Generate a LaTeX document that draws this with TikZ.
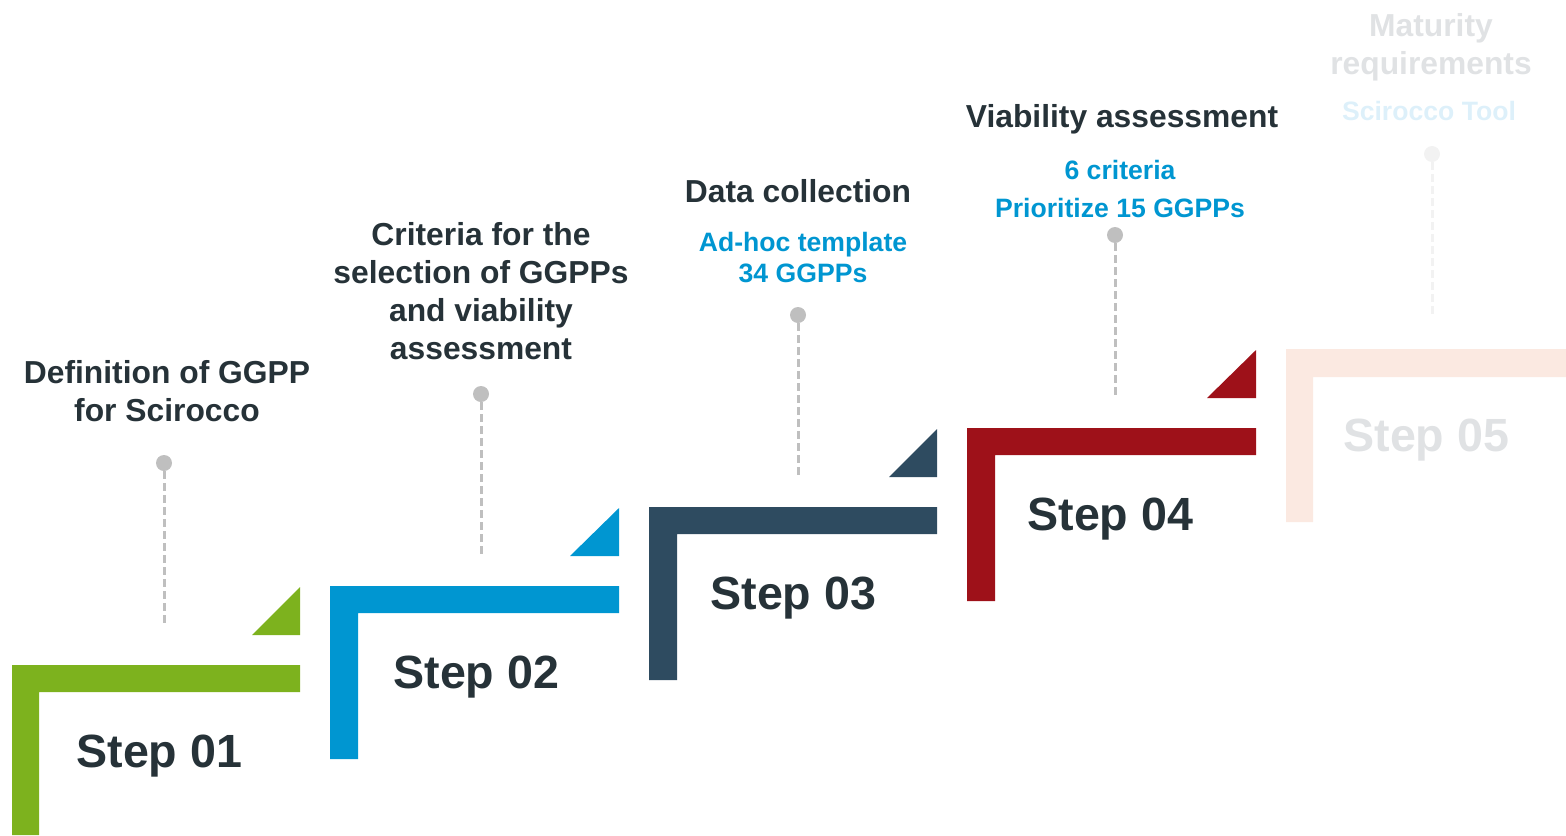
\documentclass[tikz,border=0pt]{standalone}
\usepackage{fontspec}
\setmainfont{Liberation Sans}
\definecolor{leaf}{RGB}{125, 178, 30}
\definecolor{ocean}{RGB}{0, 150, 209}
\definecolor{slate}{RGB}{46, 75, 96}
\definecolor{crimson}{RGB}{158, 17, 25}
\definecolor{peach}{RGB}{251, 233, 225}
\definecolor{ink}{RGB}{38, 50, 56}
\definecolor{pebble}{RGB}{191, 191, 191}
\definecolor{mist}{RGB}{224, 226, 228}
\definecolor{skymist}{RGB}{221, 240, 250}
\definecolor{fog}{RGB}{242, 242, 242}

\tikzset{
  title/.style={font=\fontsize{15.9}{19}\selectfont\bfseries, text=ink, align=center, inner sep=0pt},
  note/.style={font=\fontsize{13.3}{15.5}\selectfont\bfseries, text=ocean, align=center, inner sep=0pt},
  steplabel/.style={font=\fontsize{23.3}{28}\selectfont\bfseries, text=ink, anchor=base west, inner sep=0pt},
  knob/.style={circle, fill=pebble, minimum size=8pt, inner sep=0pt},
  stem/.style={pebble, line width=1.5pt, dash pattern=on 4pt off 2pt}
}

\begin{document}
\begin{tikzpicture}[x=0.5pt, y=-0.5pt]
  \useasboundingbox (0,0) rectangle (1566,835);
  % stairs
  \fill[leaf]    (  12, 835) |- ( 300, 665) -- ( 300, 692) -| (  39, 835) -- cycle;
  \fill[ocean]   ( 330, 759) |- ( 619, 586) -- ( 619, 613) -| ( 358, 759) -- cycle;
  \fill[slate]   ( 649, 680) |- ( 937, 507) -- ( 937, 534) -| ( 677, 680) -- cycle;
  \fill[crimson] ( 967, 601) |- (1256, 428) -- (1256, 455) -| ( 995, 601) -- cycle;
  \fill[peach]   (1286, 522) |- (1566, 349) -- (1566, 377) -| (1313, 522) -- cycle;
  \fill[leaf]    ( 252, 635) -- ( 300, 587) -- ( 300, 635) -- cycle;
  \fill[ocean]   ( 570, 556) -- ( 619, 508) -- ( 619, 556) -- cycle;
  \fill[slate]   ( 889, 477) -- ( 937, 429) -- ( 937, 477) -- cycle;
  \fill[crimson] (1207, 398) -- (1256, 350) -- (1256, 398) -- cycle;

  % step labels
  \node[steplabel]             (s1) at (  76, 767) {Step 01};
  \node[steplabel]             (s2) at ( 393, 688) {Step 02};
  \node[steplabel]             (s3) at ( 710, 609) {Step 03};
  \node[steplabel]             (s4) at (1027, 530) {Step 04};
  \node[steplabel, text=mist]  (s5) at (1343, 451) {Step 05};

  % pins
  \node[knob]           (d1) at ( 164, 463) {};
  \node[knob]           (d2) at ( 481, 394) {};
  \node[knob]           (d3) at ( 798, 315) {};
  \node[knob]           (d4) at (1115, 235) {};
  \node[knob, fill=fog] (d5) at (1432, 154) {};
  \coordinate (e1) at ( 164, 624);
  \coordinate (e2) at ( 481, 555);
  \coordinate (e3) at ( 798, 476);
  \coordinate (e4) at (1115, 397);
  \coordinate (e5) at (1432, 317);
  \draw[stem]           (d1) -- (e1);
  \draw[stem]           (d2) -- (e2);
  \draw[stem]           (d3) -- (e3);
  \draw[stem]           (d4) -- (e4);
  \draw[stem, fog]      (d5) -- (e5);

  % titles
  \node[title]            (t1) at ( 167, 391)   {Definition of GGPP\\for Scirocco};
  \node[title]            (t2) at ( 481, 291.5) {Criteria for the\\selection of GGPPs\\and viability\\assessment};
  \node[title]            (t3) at ( 798, 191)   {Data collection};
  \node[title]            (t4) at (1122, 119)   {Viability assessment};
  \node[title, text=mist] (t5) at (1431, 47)    {Maturity\\requirements};

  % notes
  \node[note]                                              (n3) at ( 803, 257.5) {Ad-hoc template\\34 GGPPs};
  \node[note, font=\fontsize{13.3}{19}\selectfont\bfseries] (n4) at (1120, 189)   {6 criteria\\Prioritize 15 GGPPs};
  \node[note, text=skymist]                                (n5) at (1429, 111)   {Scirocco Tool};
\end{tikzpicture}
\end{document}
